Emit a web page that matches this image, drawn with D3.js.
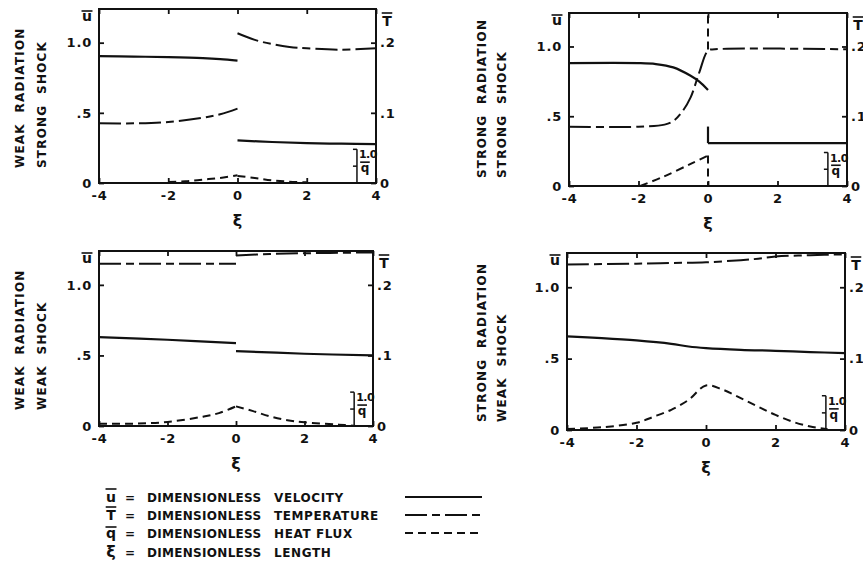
<!DOCTYPE html>
<html>
<head>
<meta charset="utf-8">
<script src="https://cdn.jsdelivr.net/npm/d3@7"></script>
<style>
body { margin: 0; background: #fff; }
svg { display: block; }
text { font-family: "DejaVu Sans", sans-serif; font-weight: bold; fill: #111; }
</style>
</head>
<body>
<div id="chart"></div>
<script>
// tick values
var xiTicks = [-4, -2, 0, 2, 4];
var uTicks = [0, 0.5, 1.0];
var tTicks = [0, 0.1, 0.2];

// each series is a list of segments, points are [xi, value]
// weak radiation, strong shock
var wsU = [[[-4, 0.904], [-3, 0.901], [-2, 0.897], [-1, 0.89], [-0.5, 0.883], [0, 0.872]],
           [[0, 0.304], [1, 0.292], [2, 0.284], [3, 0.28], [4, 0.277]]];
var wsT = [[[-4, 0.085], [-3, 0.085], [-2, 0.087], [-1, 0.093], [-0.5, 0.098], [0, 0.106]],
           [[0, 0.2135], [0.5, 0.204], [1, 0.198], [1.5, 0.194], [2, 0.192], [3, 0.19], [4, 0.192]]];
var wsQ = [[[-2, 0.03], [-1.5, 0.05], [-1, 0.1], [-0.5, 0.15], [0, 0.23]],
           [[0, 0.21], [0.5, 0.15], [1, 0.08], [1.5, 0.04], [2, 0.02]]];

// strong radiation, strong shock
var ssU = [[[-4, 0.881], [-2, 0.881], [-1.5, 0.874], [-1, 0.85], [-0.5, 0.79], [-0.25, 0.748], [0, 0.688]],
           [[0, 0.426], [0, 0.307]],
           [[0, 0.307], [4, 0.307]]];
var ssT = [[[-4, 0.085], [-2, 0.085], [-1.25, 0.088], [-1, 0.093], [-0.75, 0.106], [-0.5, 0.127],
            [-0.25, 0.163], [0, 0.194], [0.2, 0.196], [4, 0.196]]];
var ssQ = [[[-1.95, 0], [-1.3, 0.27], [-0.5, 0.66], [0, 0.91]],
           [[0, 0.91], [0, 0]],
           [[0, 4.08], [0, 5.15]]];

// weak radiation, weak shock
var wwU = [[[-4, 0.63], [-2, 0.611], [0, 0.587]],
           [[0, 0.531], [2, 0.512], [4, 0.5]]];
var wwT = [[[-4, 0.23], [0, 0.23]],
           [[0, 0.2415], [1, 0.2438], [2, 0.2448], [3, 0.2455], [4, 0.246]]];
var wwQ = [[[-4, 0.069], [-3, 0.07], [-2, 0.12], [-1, 0.27], [-0.5, 0.38], [0, 0.58]],
           [[0, 0.58], [0.5, 0.44], [1, 0.28], [1.5, 0.17], [2, 0.11], [3, 0.04], [3.5, 0]]];

// strong radiation, weak shock
var swU = [[[-4, 0.656], [-3, 0.644], [-2, 0.628], [-1, 0.604], [-0.5, 0.585], [0, 0.574],
            [1, 0.562], [2, 0.555], [3, 0.546], [4, 0.539]]];
var swT = [[[-4, 0.232], [-2, 0.233], [-1, 0.234], [0, 0.235], [1, 0.238], [1.5, 0.24],
            [2, 0.243], [3, 0.245], [4, 0.246]]];
var swQ = [[[-4, 0.03], [-3, 0.08], [-2, 0.21], [-1.5, 0.39], [-1, 0.59], [-0.5, 0.88], [0, 1.3],
            [0.5, 1.17], [1, 0.93], [1.5, 0.68], [2, 0.44], [2.5, 0.24], [3, 0.1], [3.5, 0.02]]];

var titles = [["WEAK  RADIATION", "STRONG  SHOCK"], ["STRONG  RADIATION", "STRONG  SHOCK"],
              ["WEAK  RADIATION", "WEAK  SHOCK"], ["STRONG  RADIATION", "WEAK  SHOCK"]];
var legendSymbols = ["u", "T", "q", "\u03be"];
var legendWords = [["DIMENSIONLESS", "VELOCITY"], ["DIMENSIONLESS", "TEMPERATURE"],
                   ["DIMENSIONLESS", "HEAT FLUX"], ["DIMENSIONLESS", "LENGTH"]];

var ink = "#111";
var styles = {
  u: { dash: null, width: 2.2 },
  T: { dash: "22,5,8,5", width: 2 },
  q: { dash: "8,5", width: 2 }
};

var svg = d3.select("#chart")
  .append("svg")
  .attr("width", 863)
  .attr("height", 565);

var panels = [
  { left: 99, top: 9, w: 277, h: 174, tx: [24, 46], ty: 168, title: titles[0], u: wsU, T: wsT, q: wsQ },
  { left: 569, top: 13, w: 278, h: 173, tx: [486, 506], ty: 178, title: titles[1], u: ssU, T: ssT, q: ssQ },
  { left: 99, top: 251, w: 274, h: 175, tx: [24, 46], ty: 410, title: titles[2], u: wwU, T: wwT, q: wwQ },
  { left: 567, top: 253, w: 278, h: 177, tx: [486, 506], ty: 422, title: titles[3], u: swU, T: swT, q: swQ }
];

// text with a bar over it
function barText(parent, x, y, ch, size, barDy) {
  var t = parent.append("text")
    .attr("x", x).attr("y", y)
    .attr("text-anchor", "middle")
    .style("font-size", size + "px")
    .text(ch);
  var w = t.node().getComputedTextLength();
  parent.append("line")
    .attr("x1", x - w / 2 - 0.5).attr("x2", x + w / 2 + 0.5)
    .attr("y1", y + barDy).attr("y2", y + barDy)
    .attr("stroke", ink).attr("stroke-width", 1.6);
}

panels.forEach(function(p) {
  var g = svg.append("g").attr("transform", "translate(" + p.left + "," + p.top + ")");

  var x = d3.scaleLinear().domain([-4, 4]).range([0, p.w]);
  var yU = d3.scaleLinear().domain([0, 1.24]).range([p.h, 0]);
  var yT = d3.scaleLinear().domain([0, 0.248]).range([p.h, 0]);
  var yQ = d3.scaleLinear().domain([0, 1.24 / 0.24]).range([p.h, 0]);

  // axes, ticks pointing inwards
  var axB = d3.axisBottom(x).tickValues(xiTicks).tickSize(-5).tickPadding(8)
    .tickFormat(function(d) { return String(d); });
  var axT = d3.axisTop(x).tickValues(xiTicks).tickSize(-5).tickFormat("");
  var axL = d3.axisLeft(yU).tickValues(uTicks).tickSize(-5).tickPadding(7)
    .tickFormat(function(d) { return d === 0 ? "0" : d === 1 ? "1.0" : ".5"; });
  var axR = d3.axisRight(yT).tickValues(tTicks).tickSize(-5).tickPadding(4)
    .tickFormat(function(d) { return d === 0 ? "0" : "." + Math.round(d * 10); });

  g.append("g").attr("transform", "translate(0," + p.h + ")").call(axB);
  g.append("g").call(axT);
  g.append("g").call(axL);
  g.append("g").attr("transform", "translate(" + p.w + ",0)").call(axR);

  g.selectAll(".domain").remove();
  g.selectAll(".tick line").attr("stroke", ink).attr("stroke-width", 1.8);
  g.selectAll(".tick text")
    .attr("fill", ink)
    .style("font-family", "DejaVu Sans")
    .style("font-weight", "bold")
    .style("font-size", "13px")
    .style("letter-spacing", "0.8px");

  g.append("rect")
    .attr("width", p.w).attr("height", p.h)
    .attr("fill", "none").attr("stroke", ink).attr("stroke-width", 2);

  // series
  function draw(segs, yScale, st) {
    var line = d3.line()
      .x(function(d) { return x(d[0]); })
      .y(function(d) { return yScale(d[1]); })
      .curve(d3.curveCatmullRom.alpha(0.5));
    g.selectAll(null).data(segs).enter().append("path")
      .attr("d", line)
      .attr("fill", "none")
      .attr("stroke", ink)
      .attr("stroke-width", st.width)
      .attr("stroke-dasharray", st.dash);
  }
  draw(p.u, yU, styles.u);
  draw(p.T, yT, styles.T);
  draw(p.q, yQ, styles.q);

  // small q scale bracket
  var bx = x(3.45);
  g.append("line").attr("x1", bx).attr("x2", bx).attr("y1", yQ(0)).attr("y2", yQ(1))
    .attr("stroke", ink).attr("stroke-width", 1.5);
  [1, 0.5].forEach(function(v) {
    g.append("line").attr("x1", bx - 4).attr("x2", bx).attr("y1", yQ(v)).attr("y2", yQ(v))
      .attr("stroke", ink).attr("stroke-width", 1.5);
  });
  g.append("text").attr("x", bx + 2).attr("y", yQ(1) + 9)
    .style("font-size", "11px").style("letter-spacing", "-0.5px").text("1.0");
  barText(g, bx + 8, yQ(0.5) + 6, "q", 12, -10);

  // axis symbols
  barText(g, -12, 12, "u", 14, -10);
  barText(g, p.w + 11, 17, "T", 14, -13);
  g.append("text").attr("x", x(0)).attr("y", p.h + 43)
    .attr("text-anchor", "middle").style("font-size", "16px").text("\u03be");

  // rotated title
  p.title.forEach(function(t, i) {
    svg.append("text")
      .attr("transform", "translate(" + p.tx[i] + "," + p.ty + ") rotate(-90)")
      .style("font-size", "12px")
      .style("letter-spacing", "1.2px")
      .style("white-space", "pre")
      .text(t);
  });
});

// legend
var rowY = [502, 520, 538, 557];
var lg = svg.append("g");
legendSymbols.forEach(function(s, i) {
  var y = rowY[i];
  if (i < 3) {
    barText(lg, 111, y, s, 14, s === "q" ? -11 : -13);
  } else {
    lg.append("text").attr("x", 111).attr("y", y).attr("text-anchor", "middle")
      .style("font-size", "16px").text(s);
  }
  lg.append("text").attr("x", 130).attr("y", y).attr("text-anchor", "middle")
    .style("font-size", "12px").text("=");
  lg.append("text").attr("x", 147).attr("y", y).style("font-size", "12px")
    .style("letter-spacing", "0.3px").text(legendWords[i][0]);
  lg.append("text").attr("x", 274).attr("y", y).style("font-size", "12px")
    .style("letter-spacing", "0.6px").style("white-space", "pre").text(legendWords[i][1]);
});
var lineKeys = ["u", "T", "q"];
lineKeys.forEach(function(k, i) {
  lg.append("line")
    .attr("x1", 405).attr("x2", 482)
    .attr("y1", rowY[i] - 5).attr("y2", rowY[i] - 5)
    .attr("stroke", ink)
    .attr("stroke-width", styles[k].width)
    .attr("stroke-dasharray", styles[k].dash);
});
</script>
</body>
</html>
